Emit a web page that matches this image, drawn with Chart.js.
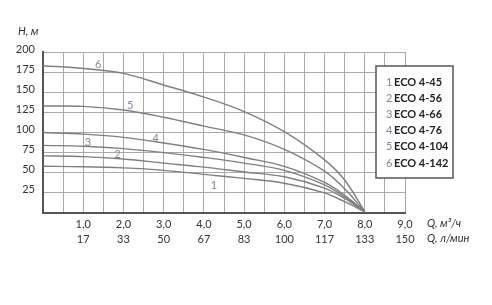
<!DOCTYPE html>
<html>
<head>
<meta charset="utf-8">
<script src="https://cdn.jsdelivr.net/npm/chart.js@4"></script>
<style>
    html, body { margin: 0; padding: 0; background: #fff; }
    #wrap { width: 492px; height: 305px; }
</style>
</head>
<body>
<div id="wrap"><canvas id="pumpChart" width="492" height="305"></canvas></div>
<script>
/* DATA */
const flowQ = [0, 1, 2, 3, 4, 5, 6, 7, 7.5, 8];
const head1 = [58, 57.5, 56, 53, 48, 43, 37, 25, 14, 1.5];
const head2 = [71, 70, 67, 62, 57, 51, 45, 31, 18, 1.5];
const head3 = [84, 83, 80, 75, 69, 62, 53, 35, 20, 1.5];
const head4 = [100, 98, 94, 87, 79, 69, 58, 38, 22, 1.5];
const head5 = [133, 132.5, 128, 119, 108, 97, 79, 52, 30, 1.5];
const head6 = [183, 179.5, 173.5, 159, 144, 126, 101, 66, 41, 1.5];

const models = ["ECO 4-45", "ECO 4-56", "ECO 4-66", "ECO 4-76", "ECO 4-104", "ECO 4-142"];
const curveNums = ["1", "2", "3", "4", "5", "6"];
// where the small curve numbers sit (Q, H)
const labelQ = [4.25, 1.85, 1.12, 2.8, 2.17, 1.37];
const labelH = [34, 73, 88, 93, 134, 185];

const qM3 = ["1,0", "2,0", "3,0", "4,0", "5,0", "6,0", "7,0", "8,0", "9,0"];
const qLmin = ["17", "33", "50", "67", "83", "100", "117", "133", "150"];
const hTicks = [25, 50, 75, 100, 125, 150, 175, 200];

const FONT = "Lato, 'Open Sans', sans-serif";
const TEXT = "#333";
const NUMCOL = "#7d879b";

const heads = [head1, head2, head3, head4, head5, head6];

// vertical grid every 0.5 m3/h
const gridQ = [];
for (let q = 0; q <= 9; q += 0.5) gridQ.push(q);

/* PLUGIN: titles, curve numbers, legend box */
const decor = {
    id: "decor",
    afterDraw(chart) {
        const { ctx, scales: { x, y } } = chart;
        ctx.save();

        // curve numbers
        ctx.font = "11px " + FONT;
        ctx.fillStyle = NUMCOL;
        ctx.textAlign = "center";
        ctx.textBaseline = "middle";
        curveNums.forEach((n, i) => {
            ctx.fillText(n, x.getPixelForValue(labelQ[i]), y.getPixelForValue(labelH[i]));
        });

        // axis titles
        ctx.font = "italic 11px " + FONT;
        ctx.fillStyle = TEXT;
        ctx.textAlign = "left";
        ctx.fillText("H, м", 18, 31);
        ctx.fillText("Q, м³/ч", 427, 223);
        ctx.fillText("Q, л/мин", 427, 238);

        // legend box
        const bx = 376, by = 66, bw = 77, bh = 112;
        ctx.fillStyle = "#fff";
        ctx.fillRect(bx, by, bw, bh);
        ctx.strokeStyle = "#555";
        ctx.lineWidth = 1.5;
        ctx.strokeRect(bx, by, bw, bh);

        models.forEach((m, i) => {
            const ty = 82 + i * 16.2;
            ctx.font = "11px " + FONT;
            ctx.fillStyle = NUMCOL;
            ctx.fillText(curveNums[i], 386, ty);
            ctx.font = "bold 11px " + FONT;
            ctx.fillStyle = "#222";
            ctx.fillText(m, 394, ty);
        });

        ctx.restore();
    }
};

const datasets = heads.map((h, i) => ({
    label: models[i],
    data: flowQ.map((q, k) => ({ x: q, y: h[k] })),
    borderColor: "#7f7f7f",
    borderWidth: 1.4,
    pointRadius: 0,
    fill: false,
    tension: 0.35
}));

new Chart(document.getElementById("pumpChart"), {
    type: "line",
    data: { datasets },
    options: {
        responsive: false,
        animation: false,
        layout: { padding: { left: 0, top: 52, right: 87, bottom: 52 } },
        plugins: { legend: { display: false }, tooltip: { enabled: false } },
        scales: {
            x: {
                type: "linear",
                min: 0,
                max: 9,
                afterFit: s => { s.height = 40; },
                afterBuildTicks: s => { s.ticks = gridQ.map(v => ({ value: v })); },
                grid: { color: "#a8a8a8", lineWidth: 1, drawTicks: false },
                border: { color: "#555", width: 2 },
                ticks: {
                    autoSkip: false,
                    maxRotation: 0,
                    padding: 4,
                    color: TEXT,
                    font: { family: FONT, size: 11, lineHeight: 1.35 },
                    callback: v => {
                        const i = Math.round(v) - 1;
                        return Number.isInteger(v) && i >= 0 ? [qM3[i], qLmin[i]] : "";
                    }
                }
            },
            y: {
                min: 0,
                max: 200,
                afterFit: s => { s.width = 43; },
                grid: { color: "#a8a8a8", lineWidth: 1, drawTicks: false },
                border: { color: "#555", width: 2 },
                ticks: {
                    stepSize: 25,
                    padding: 8,
                    labelOffset: -3,
                    color: TEXT,
                    font: { family: FONT, size: 11 },
                    callback: v => hTicks.includes(v) ? String(v) : ""
                }
            }
        }
    },
    plugins: [decor]
});
</script>
</body>
</html>
